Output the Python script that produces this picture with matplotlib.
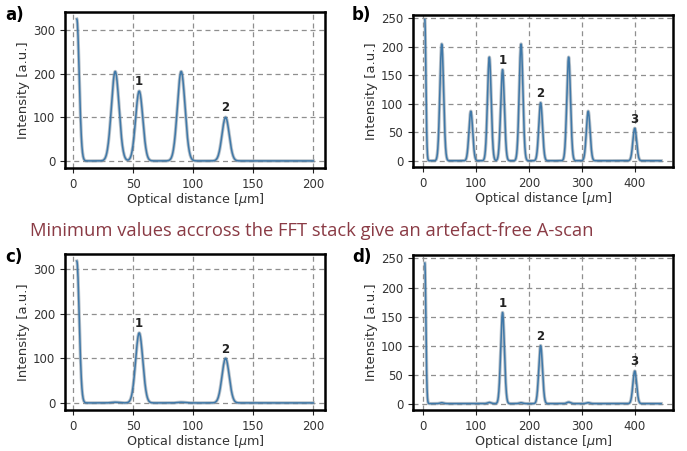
import numpy as np
import matplotlib
matplotlib.use('Agg')
import matplotlib.pyplot as plt

# peak positions [um], heights [a.u.], widths (sigma)
a_pos = [3, 35, 55, 90, 127]
a_height = [325, 205, 160, 205, 100]
a_sigma = [2.0, 3.2, 3.0, 3.2, 3.0]

b_pos = [3, 35, 90, 125, 150, 185, 222, 275, 312, 400]
b_height = [248, 205, 87, 182, 160, 205, 102, 182, 87, 57]
b_sigma = [2.0, 3.5, 3.5, 3.5, 3.5, 3.5, 3.5, 3.5, 3.5, 3.5]

c_pos = [3, 35, 55, 90, 127]
c_height = [318, 1.5, 157, 1.5, 100]
c_sigma = [2.0, 3.0, 3.0, 3.0, 3.0]

d_pos = [3, 35, 125, 150, 185, 222, 275, 312, 400]
d_height = [242, 1.5, 2, 157, 1.5, 100, 2.5, 1.5, 56]
d_sigma = [2.0, 3.5, 3.5, 3.5, 3.5, 3.5, 3.5, 3.5, 3.5]

# numbered peak labels: (position, height, text)
a_labels = [(55, 160, '1'), (127, 100, '2')]
b_labels = [(150, 160, '1'), (222, 102, '2'), (400, 57, '3')]
c_labels = [(55, 157, '1'), (127, 100, '2')]
d_labels = [(150, 157, '1'), (222, 100, '2'), (400, 56, '3')]

a_range = (3, 200)
b_range = (3, 450)
a_yticks = [0, 100, 200, 300]
b_yticks = [0, 50, 100, 150, 200, 250]
a_xticks = [0, 50, 100, 150, 200]
b_xticks = [0, 100, 200, 300, 400]


def ascan(pos, height, sigma, xr):
    x = np.arange(xr[0], xr[1] + 0.25, 0.25)
    y = np.zeros_like(x)
    for p, h, s in zip(pos, height, sigma):
        y += h * np.exp(-0.5 * ((x - p) / s) ** 2)
    return x, y


fig = plt.figure(figsize=(6.87, 4.51), dpi=100)
W, H = 687, 451

panels = [
    ('a)', (65, 12, 325, 168), a_pos, a_height, a_sigma, a_range, a_labels, a_xticks, a_yticks, None, (5, 20)),
    ('b)', (413, 15, 673, 167), b_pos, b_height, b_sigma, b_range, b_labels, b_xticks, b_yticks, (-11, 256), (352, 20)),
    ('c)', (65, 254, 325, 410), c_pos, c_height, c_sigma, a_range, c_labels, a_xticks, a_yticks, None, (5, 262)),
    ('d)', (413, 255, 673, 410), d_pos, d_height, d_sigma, b_range, d_labels, b_xticks, b_yticks, (-11, 256), (352, 262)),
]

for tag, box, pos, height, sigma, xr, labels, xt, yt, ylim, tagxy in panels:
    l, t, r, b = box
    ax = fig.add_axes([l / W, 1 - b / H, (r - l) / W, (b - t) / H])
    x, y = ascan(pos, height, sigma, xr)
    ax.plot(x, y, color='#8c9aa6', lw=2.4, alpha=0.6)
    ax.plot(x, y, color='#3f78a8', lw=1.1)
    for px, py, txt in labels:
        ax.annotate(txt, (px, py), xytext=(0, 2), textcoords='offset points',
                    ha='center', va='bottom', fontsize=8.5, fontweight='bold', color='#222222')
    ax.set_xticks(xt)
    ax.set_yticks(yt)
    if ylim:
        ax.set_ylim(*ylim)
    ax.grid(True, ls=(0, (4, 3)), color='#8f8f8f', lw=0.9)
    for sp in ax.spines.values():
        sp.set_linewidth(1.8)
    ax.tick_params(labelsize=8.5, length=3.5, width=0.8, colors='#222222', labelcolor='#333333')
    ax.set_xlabel(r'Optical distance [$\mu$m]', fontsize=9.2, color='#333333', labelpad=0)
    ax.set_ylabel('Intensity [a.u.]', fontsize=9.5, color='#333333', labelpad=2)
    fig.text(tagxy[0] / W, 1 - tagxy[1] / H, tag, fontsize=12, fontweight='bold',
             ha='left', va='baseline')

fig.text(30 / W, 1 - 231 / H, 'Minimum values accross the FFT stack give an artefact-free A-scan',
         fontsize=13.2, family='Open Sans', color='#8a3b45', ha='left', va='center')

fig.savefig('out.png', dpi=100)
